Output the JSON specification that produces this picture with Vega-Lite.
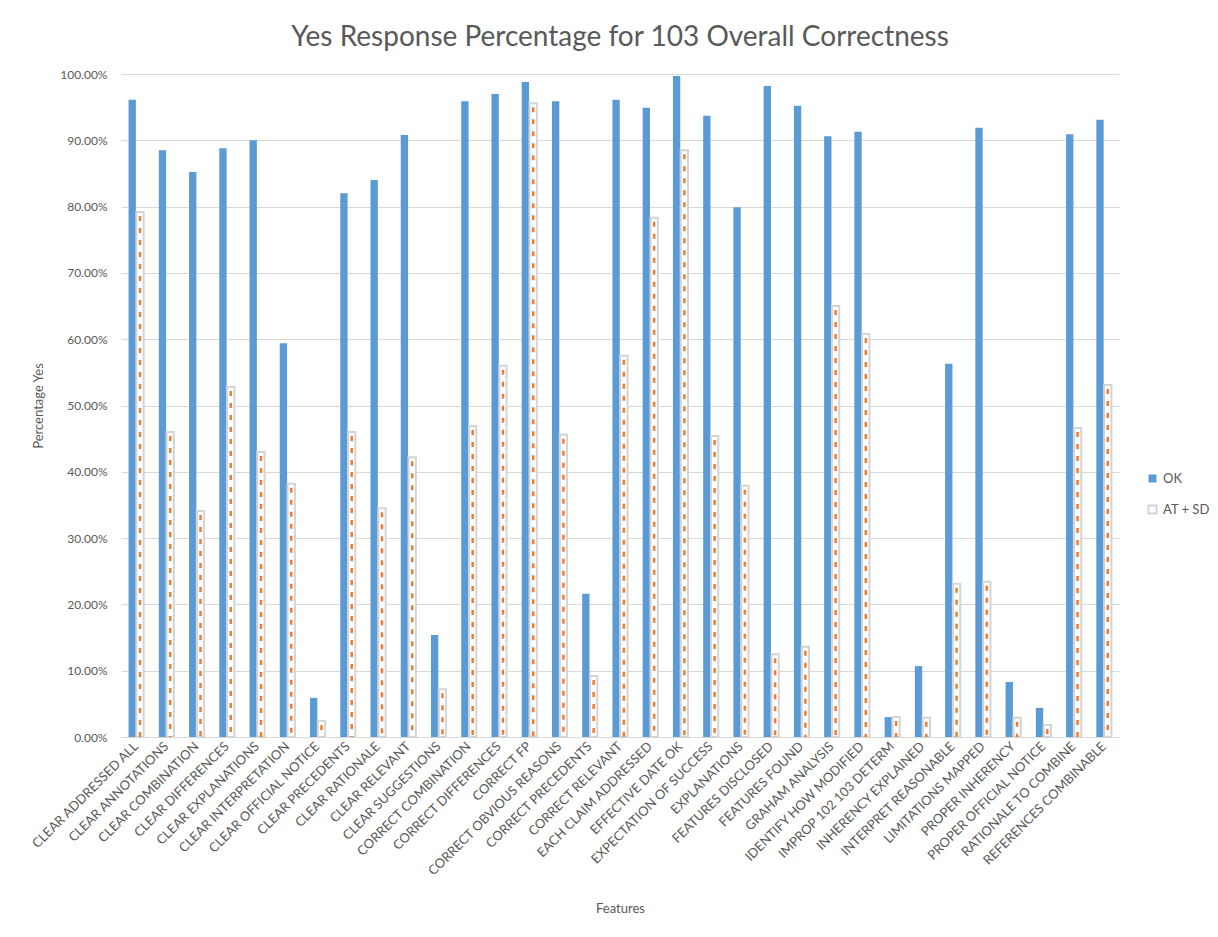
{
  "$schema": "https://vega.github.io/schema/vega-lite/v6.json",
  "width": 998,
  "height": 663,
  "padding": {"left": 29, "top": 24, "right": 5, "bottom": 5},
  "background": "#ffffff",
  "title": {
    "text": "Yes Response Percentage for 103 Overall Correctness",
    "font": "Lato",
    "fontSize": 28,
    "fontWeight": "normal",
    "color": "#595959",
    "anchor": "middle",
    "offset": 16
  },
  "config": {
    "view": {"stroke": null},
    "font": "Lato",
    "axis": {
      "labelColor": "#595959",
      "titleColor": "#595959",
      "titleFont": "Lato",
      "labelFont": "Lato",
      "titleFontWeight": "normal",
      "titleFontSize": 13,
      "labelFontSize": 12
    },
    "legend": {"labelColor": "#595959", "labelFont": "Lato", "labelFontSize": 13}
  },
  "data": {
    "values": [
      {"feature": "CLEAR ADDRESSED ALL", "series": "OK", "value": 0.961},
      {"feature": "CLEAR ADDRESSED ALL", "series": "AT + SD", "value": 0.792},
      {"feature": "CLEAR ANNOTATIONS", "series": "OK", "value": 0.885},
      {"feature": "CLEAR ANNOTATIONS", "series": "AT + SD", "value": 0.460},
      {"feature": "CLEAR COMBINATION", "series": "OK", "value": 0.852},
      {"feature": "CLEAR COMBINATION", "series": "AT + SD", "value": 0.341},
      {"feature": "CLEAR DIFFERENCES", "series": "OK", "value": 0.888},
      {"feature": "CLEAR DIFFERENCES", "series": "AT + SD", "value": 0.528},
      {"feature": "CLEAR EXPLANATIONS", "series": "OK", "value": 0.900},
      {"feature": "CLEAR EXPLANATIONS", "series": "AT + SD", "value": 0.430},
      {"feature": "CLEAR INTERPRETATION", "series": "OK", "value": 0.594},
      {"feature": "CLEAR INTERPRETATION", "series": "AT + SD", "value": 0.382},
      {"feature": "CLEAR OFFICIAL NOTICE", "series": "OK", "value": 0.059},
      {"feature": "CLEAR OFFICIAL NOTICE", "series": "AT + SD", "value": 0.024},
      {"feature": "CLEAR PRECEDENTS", "series": "OK", "value": 0.820},
      {"feature": "CLEAR PRECEDENTS", "series": "AT + SD", "value": 0.460},
      {"feature": "CLEAR RATIONALE", "series": "OK", "value": 0.840},
      {"feature": "CLEAR RATIONALE", "series": "AT + SD", "value": 0.345},
      {"feature": "CLEAR RELEVANT", "series": "OK", "value": 0.908},
      {"feature": "CLEAR RELEVANT", "series": "AT + SD", "value": 0.422},
      {"feature": "CLEAR SUGGESTIONS", "series": "OK", "value": 0.154},
      {"feature": "CLEAR SUGGESTIONS", "series": "AT + SD", "value": 0.072},
      {"feature": "CORRECT COMBINATION", "series": "OK", "value": 0.959},
      {"feature": "CORRECT COMBINATION", "series": "AT + SD", "value": 0.469},
      {"feature": "CORRECT DIFFERENCES", "series": "OK", "value": 0.970},
      {"feature": "CORRECT DIFFERENCES", "series": "AT + SD", "value": 0.560},
      {"feature": "CORRECT FP", "series": "OK", "value": 0.988},
      {"feature": "CORRECT FP", "series": "AT + SD", "value": 0.956},
      {"feature": "CORRECT OBVIOUS REASONS", "series": "OK", "value": 0.959},
      {"feature": "CORRECT OBVIOUS REASONS", "series": "AT + SD", "value": 0.456},
      {"feature": "CORRECT PRECEDENTS", "series": "OK", "value": 0.216},
      {"feature": "CORRECT PRECEDENTS", "series": "AT + SD", "value": 0.092},
      {"feature": "CORRECT RELEVANT", "series": "OK", "value": 0.961},
      {"feature": "CORRECT RELEVANT", "series": "AT + SD", "value": 0.575},
      {"feature": "EACH CLAIM ADDRESSED", "series": "OK", "value": 0.949},
      {"feature": "EACH CLAIM ADDRESSED", "series": "AT + SD", "value": 0.783},
      {"feature": "EFFECTIVE DATE OK", "series": "OK", "value": 0.997},
      {"feature": "EFFECTIVE DATE OK", "series": "AT + SD", "value": 0.885},
      {"feature": "EXPECTATION OF SUCCESS", "series": "OK", "value": 0.937},
      {"feature": "EXPECTATION OF SUCCESS", "series": "AT + SD", "value": 0.454},
      {"feature": "EXPLANATIONS", "series": "OK", "value": 0.799},
      {"feature": "EXPLANATIONS", "series": "AT + SD", "value": 0.379},
      {"feature": "FEATURES DISCLOSED", "series": "OK", "value": 0.982},
      {"feature": "FEATURES DISCLOSED", "series": "AT + SD", "value": 0.125},
      {"feature": "FEATURES FOUND", "series": "OK", "value": 0.952},
      {"feature": "FEATURES FOUND", "series": "AT + SD", "value": 0.136},
      {"feature": "GRAHAM ANALYSIS", "series": "OK", "value": 0.906},
      {"feature": "GRAHAM ANALYSIS", "series": "AT + SD", "value": 0.650},
      {"feature": "IDENTIFY HOW MODIFIED", "series": "OK", "value": 0.913},
      {"feature": "IDENTIFY HOW MODIFIED", "series": "AT + SD", "value": 0.608},
      {"feature": "IMPROP 102 103 DETERM", "series": "OK", "value": 0.030},
      {"feature": "IMPROP 102 103 DETERM", "series": "AT + SD", "value": 0.030},
      {"feature": "INHERENCY EXPLAINED", "series": "OK", "value": 0.107},
      {"feature": "INHERENCY EXPLAINED", "series": "AT + SD", "value": 0.029},
      {"feature": "INTERPRET REASONABLE", "series": "OK", "value": 0.563},
      {"feature": "INTERPRET REASONABLE", "series": "AT + SD", "value": 0.231},
      {"feature": "LIMITATIONS MAPPED", "series": "OK", "value": 0.919},
      {"feature": "LIMITATIONS MAPPED", "series": "AT + SD", "value": 0.234},
      {"feature": "PROPER INHERENCY", "series": "OK", "value": 0.083},
      {"feature": "PROPER INHERENCY", "series": "AT + SD", "value": 0.029},
      {"feature": "PROPER OFFICIAL NOTICE", "series": "OK", "value": 0.044},
      {"feature": "PROPER OFFICIAL NOTICE", "series": "AT + SD", "value": 0.018},
      {"feature": "RATIONALE TO COMBINE", "series": "OK", "value": 0.909},
      {"feature": "RATIONALE TO COMBINE", "series": "AT + SD", "value": 0.466},
      {"feature": "REFERENCES COMBINABLE", "series": "OK", "value": 0.931},
      {"feature": "REFERENCES COMBINABLE", "series": "AT + SD", "value": 0.531}
    ]
  },
  "encoding": {
    "x": {
      "field": "feature",
      "type": "nominal",
      "sort": null,
      "scale": {"paddingInner": 0.5, "paddingOuter": 0.25},
      "axis": {
        "title": "Features",
        "titlePadding": 24,
        "labelAngle": -45,
        "labelAlign": "right",
        "labelBaseline": "middle",
        "labelPadding": 7,
        "labelFontSize": 13,
        "labelLimit": 0,
        "ticks": false,
        "domainColor": "#d9d9d9",
        "domainWidth": 1,
        "grid": false
      }
    },
    "xOffset": {"field": "series", "type": "nominal", "sort": ["OK", "AT + SD"], "scale": {"paddingInner": 0.06}},
    "y": {
      "field": "value",
      "type": "quantitative",
      "scale": {"domain": [0, 1], "nice": false},
      "axis": {
        "title": "Percentage Yes",
        "format": ".2%",
        "values": [0, 0.1, 0.2, 0.3, 0.4, 0.5, 0.6, 0.7, 0.8, 0.9, 1],
        "ticks": false,
        "domain": false,
        "gridColor": "#d9d9d9",
        "labelPadding": 14,
        "titlePadding": 14
      }
    }
  },
  "layer": [
    {
      "mark": {"type": "bar", "strokeWidth": 2},
      "encoding": {
        "fill": {
          "field": "series",
          "type": "nominal",
          "sort": ["OK", "AT + SD"],
          "scale": {"domain": ["OK", "AT + SD"], "range": ["#5B9BD5", "#ffffff"]},
          "legend": {
            "title": null,
            "orient": "none",
            "legendX": 1025,
            "legendY": 398,
            "symbolType": "square",
            "symbolSize": 64,
            "rowPadding": 15,
            "symbolStrokeWidth": 2
          }
        },
        "stroke": {
          "field": "series",
          "type": "nominal",
          "sort": ["OK", "AT + SD"],
          "scale": {"domain": ["OK", "AT + SD"], "range": ["#5B9BD5", "#D4D4D4"]}
        },
        "strokeWidth": {
          "field": "series",
          "type": "nominal",
          "scale": {"domain": ["OK", "AT + SD"], "range": [0, 2]},
          "legend": null
        }
      }
    },
    {
      "transform": [{"filter": "datum.series === 'AT + SD'"}],
      "mark": {"type": "rule", "color": "#ED7D31", "strokeWidth": 2.5, "strokeDash": [5, 7], "strokeDashOffset": -4},
      "encoding": {"y2": {"datum": 0}}
    }
  ]
}
